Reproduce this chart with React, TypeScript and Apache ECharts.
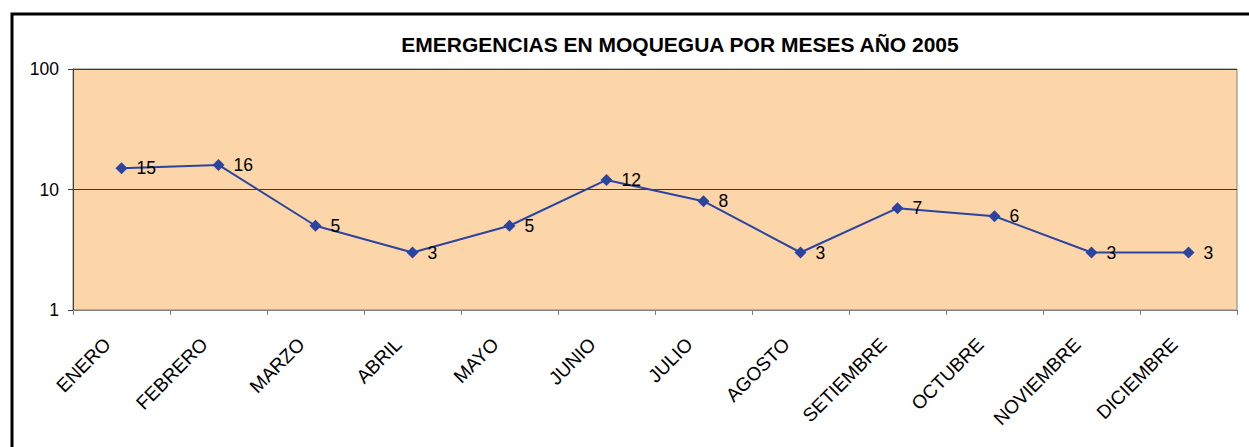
import React, { useEffect, useRef } from "react";
import * as echarts from "echarts";

const TITLE = "EMERGENCIAS EN MOQUEGUA POR MESES AÑO 2005";
const MONTHS = [
  "ENERO", "FEBRERO", "MARZO", "ABRIL", "MAYO", "JUNIO",
  "JULIO", "AGOSTO", "SETIEMBRE", "OCTUBRE", "NOVIEMBRE", "DICIEMBRE",
];
const EMERGENCIAS = [15, 16, 5, 3, 5, 12, 8, 3, 7, 6, 3, 3];

const FONT = "Arial, 'Liberation Sans', sans-serif";

export default function App() {
  const ref = useRef<HTMLDivElement>(null);
  useEffect(() => {
    if (!ref.current) return;
    const chart = echarts.init(ref.current, undefined, { renderer: "svg" });
    chart.setOption({
      animation: false,
      backgroundColor: "#ffffff",
      title: {
        text: TITLE,
        left: 675,
        top: 29,
        textAlign: "center",
        textStyle: { fontFamily: FONT, fontSize: 21, fontWeight: "bold", color: "#000" },
      },
      graphic: [
        {
          type: "rect",
          shape: { x: 12, y: 14, width: 1400, height: 600 },
          style: { fill: "none", stroke: "#000", lineWidth: 3 },
          silent: true,
          z: 100,
        },
      ],
      grid: {
        left: 73,
        top: 69,
        right: 12,
        bottom: 137,
        show: true,
        backgroundColor: "#FCD5A8",
        borderColor: "#808080",
        borderWidth: 1,
      },
      xAxis: {
        type: "category",
        data: MONTHS,
        boundaryGap: true,
        axisLine: { lineStyle: { color: "#808080", width: 1 } },
        axisTick: { show: true, interval: 0, length: 5, lineStyle: { color: "#808080" } },
        axisLabel: {
          interval: 0,
          rotate: 45,
          margin: 17,
          padding: [0, 20, 0, 0],
          fontFamily: FONT,
          fontSize: 19,
          color: "#000",
        },
        splitLine: { show: false },
      },
      yAxis: {
        type: "log",
        logBase: 10,
        min: 1,
        max: 100,
        axisLine: { show: true, lineStyle: { color: "#404040", width: 1 } },
        axisTick: { show: true, inside: false, length: 5, lineStyle: { color: "#404040" } },
        axisLabel: { fontFamily: FONT, fontSize: 17.5, color: "#000", margin: 14 },
        splitLine: { show: true, lineStyle: { color: "#3a3a3a", width: 1 } },
        minorTick: { show: false },
      },
      series: [
        {
          type: "line",
          data: EMERGENCIAS,
          symbol: "diamond",
          symbolSize: 12,
          itemStyle: { color: "#2A44A0" },
          lineStyle: { color: "#2A44A0", width: 2 },
          label: {
            show: true,
            position: "right",
            distance: 9,
            fontFamily: FONT,
            fontSize: 17.5,
            color: "#000",
          },
        },
      ],
    });
    return () => chart.dispose();
  }, []);
  return (
    <div
      ref={ref}
      style={{ position: "absolute", left: 0, top: 0, width: 1249, height: 447 }}
    />
  );
}
